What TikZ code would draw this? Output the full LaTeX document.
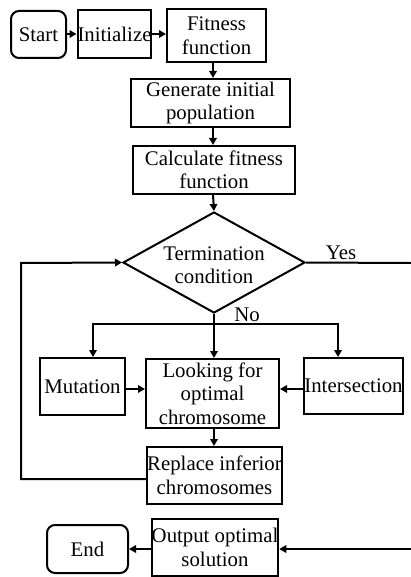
\documentclass[tikz,border=0pt]{standalone}
\usepackage{fontspec}
\setmainfont{Liberation Serif}
\usetikzlibrary{arrows.meta,shapes.geometric}
\tikzset{
  box/.style={draw, line width=2pt, inner sep=0pt, align=center, font=\fontsize{20.8}{23.5}\selectfont},
  rbox/.style={box, rounded corners=8pt},
  lbl/.style={inner sep=0pt, font=\fontsize{20.8}{23.5}\selectfont},
  arr/.style={line width=2pt, -{Triangle[length=7pt,width=7.5pt]}},
  ln/.style={line width=2pt}
}
\begin{document}
\begin{tikzpicture}[x=1pt,y=-1pt]
\useasboundingbox (0,0) rectangle (411,577);
\node[rbox, minimum width=55pt, minimum height=47pt] (start) at (38.5,34.5) {Start};
\node[box, minimum width=71pt, minimum height=48pt] (init) at (114.5,34) {Initialize};
\node[box, minimum width=99pt, minimum height=53pt] (fit) at (216.5,35.5) {Fitness\\function};
\node[box, minimum width=159pt, minimum height=48pt] (gen) at (210.5,103) {Generate initial\\population};
\node[box, minimum width=162pt, minimum height=48pt] (calc) at (214,170) {Calculate fitness\\function};
\node[draw, diamond, line width=2pt, inner sep=0pt, minimum width=182pt, minimum height=101pt] (term) at (214,262.5) {};
\node[lbl, align=center] (termt) at (214,265) {Termination\\condition};
\node[lbl] (yes) at (341,253) {Yes};
\node[lbl] (no) at (247,315) {No};
\node[box, minimum width=85pt, minimum height=57pt] (mut) at (82.5,386.5) {Mutation};
\node[box, minimum width=133pt, minimum height=69pt] (look) at (212.5,393.5) {Looking for\\optimal\\chromosome};
\node[box, minimum width=95pt, minimum height=56pt] (inter) at (353.5,386) {Intersection};
\node[box, minimum width=131pt, minimum height=57pt] (rep) at (214.5,475.5) {Replace inferior\\chromosomes};
\node[box, minimum width=124pt, minimum height=57pt] (out) at (215,547.5) {Output optimal\\solution};
\node[rbox, minimum width=81pt, minimum height=48pt] (end) at (87.5,549) {End};
\coordinate (br) at (214,324);
\coordinate (brl) at (93,324);
\coordinate (brr) at (338,324);
\coordinate (yesend) at (411,263);
\coordinate (retin) at (411,549);
\coordinate (loopb) at (21,479);
\coordinate (loopt) at (21,263);
% top chain
\draw[arr] (start.east |- 0,34) -- (init.west |- 0,34);
\draw[arr] (init.east |- 0,34) -- (fit.west |- 0,34);
\draw[arr] (213,0 |- fit.south) -- (213,0 |- gen.north);
\draw[arr] (213,0 |- gen.south) -- (213,0 |- calc.north);
\draw[arr] (213,0 |- calc.south) -- (term.north);
% branches
\draw[arr] (term.south) -- (br) -- (214,0 |- look.north);
\draw[arr] (br) -- (brl) -- (93,0 |- mut.north);
\draw[arr] (br) -- (brr) -- (338,0 |- inter.north);
\draw[arr] (mut.east |- 0,389) -- (look.west |- 0,389);
\draw[arr] (inter.west |- 0,389) -- (look.east |- 0,389);
\draw[arr] (214,0 |- look.south) -- (214,0 |- rep.north);
% loop back
\draw[arr] (rep.west |- loopb) -- (loopb) -- (loopt) -- (term.west);
% yes exit
\draw[ln] (term.east) -- (yesend);
\draw[arr] (retin) -- (out.east |- retin);
\draw[arr] (out.west |- retin) -- (end.east |- retin);
\end{tikzpicture}
\end{document}
